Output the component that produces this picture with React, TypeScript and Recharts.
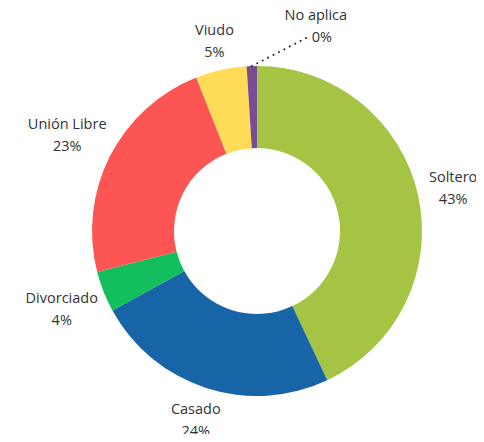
import React from "react";
import { PieChart, Pie, Cell } from "recharts";

const categories = ["Soltero", "Casado", "Divorciado", "Unión Libre", "Viudo", "No aplica"];
const values = [43, 24, 4, 23, 5, 1];
const pctLabels = ["43%", "24%", "4%", "23%", "5%", "0%"];
const colors = ["#a5c444", "#1765a6", "#12bf5c", "#fd5454", "#fedc58", "#7a4c94"];

const data = categories.map((name, i) => ({ name, value: values[i], pct: pctLabels[i] }));

const RAD = Math.PI / 180;

const renderLabel = (props: any) => {
  const { cx, cy, midAngle, outerRadius, index } = props;
  const d = data[index];
  const style = { fontFamily: "'Open Sans', 'Noto Sans', sans-serif", fontSize: 14.5, fill: "#333" };
  if (index === data.length - 1) {
    const sx = cx + outerRadius * Math.cos(-midAngle * RAD);
    const sy = cy + outerRadius * Math.sin(-midAngle * RAD);
    const ex = sx + 58;
    const ey = sy - 30;
    return (
      <g>
        <line x1={sx} y1={sy} x2={ex} y2={ey} stroke="#1b2a3a" strokeWidth={2} strokeDasharray="0.1 6" strokeLinecap="round" />
        <text x={ex + 6} y={sy - 52} textAnchor="middle" dominantBaseline="central" style={style}>{d.name}</text>
        <text x={ex + 12} y={sy - 30} textAnchor="middle" dominantBaseline="central" style={style}>{d.pct}</text>
      </g>
    );
  }
  const r = outerRadius + 15 + d.name.length * 3;
  const x = cx + r * Math.cos(-midAngle * RAD);
  const y = cy + r * Math.sin(-midAngle * RAD);
  return (
    <g>
      <text x={x} y={y - 11} textAnchor="middle" dominantBaseline="central" style={style}>{d.name}</text>
      <text x={x} y={y + 11} textAnchor="middle" dominantBaseline="central" style={style}>{d.pct}</text>
    </g>
  );
};

export default function App() {
  return (
    <div style={{ margin: -8, width: 484, height: 442 }}>
      <PieChart width={484} height={442}>
        <Pie
          data={data}
          dataKey="value"
          nameKey="name"
          cx={252}
          cy={226}
          innerRadius={83}
          outerRadius={165}
          startAngle={90}
          endAngle={-270}
          stroke="none"
          label={renderLabel}
          labelLine={false}
          isAnimationActive={false}
        >
          {data.map((d, i) => (
            <Cell key={d.name} fill={colors[i]} />
          ))}
        </Pie>
      </PieChart>
    </div>
  );
}
